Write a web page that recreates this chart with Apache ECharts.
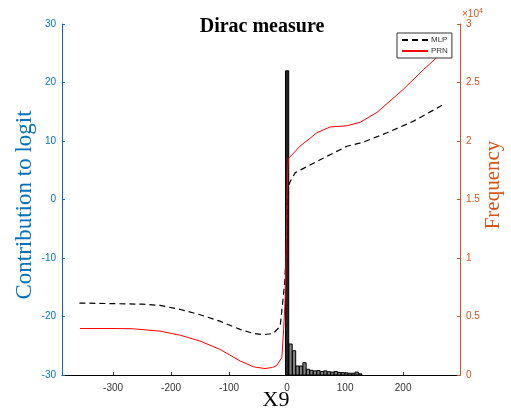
<!DOCTYPE html>
<html>
<head>
<meta charset="utf-8">
<script src="https://cdn.jsdelivr.net/npm/echarts@6/dist/echarts.min.js"></script>
<style>html,body{margin:0;padding:0;background:#fff;}#c{width:511px;height:416px;}</style>
</head>
<body>
<div id="c"></div>
<script>
// ---- data ----
const xTicks = [-300, -200, -100, 0, 100, 200];
const yLeftRange = [-30, 30];
const yRightRange = [0, 30000];

const mlpX = [-358, -300, -250, -219, -184, -150, -116, -81, -58, -40, -24, -12, -7, -4, -2, -1, 0, 1, 3, 5, 14, 22, 57, 103, 131, 172, 218, 267];
const mlpY = [-17.7, -17.8, -17.9, -18.1, -18.8, -19.7, -20.8, -22.2, -22.9, -23.1, -22.9, -21.7, -17, -14, -9.7, -6.8, -2, 1, 2.5, 3.0, 4.6, 5.0, 6.8, 9.1, 9.8, 11.4, 13.4, 16.1];

const prnX = [-357, -300, -265, -219, -184, -150, -116, -81, -58, -38, -25, -18, -9, -6, -3.4, -2, -1, 0, 1, 2, 10, 22, 40, 51, 74, 103, 126, 155, 200, 235, 255, 267];
const prnY = [-22.05, -22.05, -22.1, -22.5, -23.2, -24.2, -25.6, -27.6, -28.6, -28.9, -28.7, -28.4, -27, -22.2, -17.1, -10.3, -5, 0.5, 5, 7.0, 7.8, 9.1, 10.5, 11.4, 12.4, 12.6, 13.2, 14.9, 18.8, 22.2, 24, 25.2];

const binWidth = 5.6;
const histX = [0, 6, 12, 18, 24, 30, 36, 42, 48, 54, 60, 66, 72, 78, 84, 90, 96, 102, 108, 114, 120, 126];
const histF = [26000, 2650, 2080, 770, 770, 1050, 490, 400, 350, 380, 300, 350, 280, 250, 300, 220, 200, 180, 150, 150, 250, 100];

// ---- chart ----
const blue = '#0072BD';
const orange = '#D95319';
const chart = echarts.init(document.getElementById('c'), null, {renderer: 'canvas'});

const zip = (a, b) => a.map((v, i) => [v, b[i]]);

chart.setOption({
  animation: false,
  backgroundColor: '#fff',
  grid: {left: 62, right: 51, top: 24, bottom: 41, containLabel: false},
  graphic: [
    {type: 'text', style: {text: 'Dirac measure', x: 262, y: 27, align: 'center', verticalAlign: 'middle', font: 'bold 20px "Liberation Serif", "Times New Roman", serif', fill: '#000'}},
    {type: 'text', style: {text: 'X9', x: 276, y: 400, align: 'center', verticalAlign: 'middle', font: '22px "Liberation Serif", "Times New Roman", serif', fill: '#000'}},
    {type: 'text', rotation: Math.PI / 2, x: 25, y: 205, style: {text: 'Contribution to logit', x: 0, y: 0, align: 'center', verticalAlign: 'middle', font: '23px "Liberation Serif", "Times New Roman", serif', fill: blue}},
    {type: 'text', rotation: Math.PI / 2, x: 493, y: 185, style: {text: 'Frequency', x: 0, y: 0, align: 'center', verticalAlign: 'middle', font: '21px "Liberation Serif", "Times New Roman", serif', fill: orange}},
    {type: 'text', x: 462, y: 14, style: {text: '×10{s|4}', verticalAlign: 'middle', font: '10px "Liberation Sans", Arial, sans-serif', fill: orange, rich: {s: {fontSize: 7, verticalAlign: 'top', padding: [0, 0, 6, 0], fill: orange}}}}
  ],
  legend: {
    data: ['MLP', 'PRN'],
    orient: 'vertical',
    left: 397, top: 33,
    itemWidth: 26, itemHeight: 8, itemGap: 3,
    padding: [3, 4, 3, 4],
    backgroundColor: '#fff',
    borderColor: '#333', borderWidth: 1, borderRadius: 0,
    itemStyle: {opacity: 0},
    textStyle: {fontSize: 8, color: '#333', fontFamily: '"Liberation Sans", Arial, sans-serif', padding: [0, 0, 0, -2]}
  },
  xAxis: {
    type: 'value', min: -388, max: 298,
    axisLine: {show: true, onZero: false, lineStyle: {color: '#000', width: 1}},
    axisTick: {show: true, inside: true, length: 3, lineStyle: {color: '#333'}, customValues: xTicks},
    axisLabel: {show: true, color: '#333', fontSize: 10, margin: 8, fontFamily: '"Liberation Sans", Arial, sans-serif', customValues: xTicks},
    splitLine: {show: false}
  },
  yAxis: [
    {
      type: 'value', position: 'left', min: yLeftRange[0], max: yLeftRange[1], interval: 10,
      axisLine: {show: true, onZero: false, lineStyle: {color: blue, width: 1}},
      axisTick: {show: true, inside: true, length: 3, lineStyle: {color: blue}},
      axisLabel: {color: blue, fontSize: 10, margin: 6, fontFamily: '"Liberation Sans", Arial, sans-serif'},
      splitLine: {show: false}
    },
    {
      type: 'value', position: 'right', min: yRightRange[0], max: yRightRange[1], interval: 5000,
      axisLine: {show: true, onZero: false, lineStyle: {color: orange, width: 1}},
      axisTick: {show: true, inside: true, length: 3, lineStyle: {color: orange}},
      axisLabel: {color: orange, fontSize: 10, margin: 6, fontFamily: '"Liberation Sans", Arial, sans-serif', formatter: v => String(v / 10000)},
      splitLine: {show: false}
    }
  ],
  series: [
    {
      name: 'hist', type: 'custom', yAxisIndex: 1, z: 1, clip: true,
      data: zip(histX, histF),
      renderItem: (params, api) => {
        const x = api.value(0), f = api.value(1);
        const p0 = api.coord([x - binWidth / 2, f]);
        const p1 = api.coord([x + binWidth / 2, 0]);
        const big = f > 10000;
        return {type: 'rect', shape: {x: p0[0], y: p0[1], width: p1[0] - p0[0], height: p1[1] - p0[1]},
          style: {fill: big ? '#222' : '#808080', stroke: '#000', lineWidth: 1}};
      }
    },
    {
      name: 'MLP', type: 'line', yAxisIndex: 0, z: 3, symbol: 'none', smooth: false,
      data: zip(mlpX, mlpY),
      lineStyle: {color: '#000', width: 1.2, type: [6, 4]},
      itemStyle: {color: '#000'}
    },
    {
      name: 'PRN', type: 'line', yAxisIndex: 0, z: 3, symbol: 'none', smooth: false,
      data: zip(prnX, prnY),
      lineStyle: {color: '#ff0000', width: 1},
      itemStyle: {color: '#ff0000'}
    }
  ]
});
</script>
</body>
</html>
